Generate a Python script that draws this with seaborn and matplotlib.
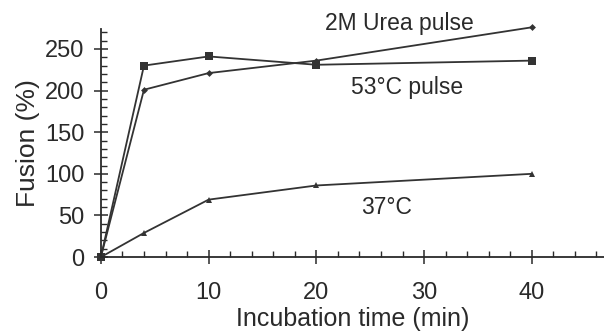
import matplotlib
matplotlib.use("Agg")
import matplotlib.pyplot as plt
from matplotlib.ticker import MultipleLocator
import seaborn as sns
import pandas as pd

time_min = [0, 4, 10, 20, 40]
urea_pulse = [0, 201, 221, 236, 276]
heat_pulse = [0, 230, 241, 231, 236]
control_37 = [0, 29, 69, 86, 100]

series_names = ["2M Urea pulse", "53°C pulse", "37°C"]
x_ticks = [0, 10, 20, 30, 40]
y_ticks = [0, 50, 100, 150, 200, 250]

sns.set_theme(style="ticks")
plt.rcParams['font.family'] = ['Liberation Sans', 'DejaVu Sans']

rows = []
for name, vals in zip(series_names, [urea_pulse, heat_pulse, control_37]):
    for t, v in zip(time_min, vals):
        rows.append({"time": t, "fusion": v, "series": name})
df = pd.DataFrame(rows)

fig = plt.figure(figsize=(6.04, 3.33), dpi=100)
ax = fig.add_axes([0.167, 0.228, 0.833, 0.685])

line_col = "#333333"
sns.lineplot(data=df, x="time", y="fusion", hue="series", style="series",
             palette={n: line_col for n in series_names},
             markers={"2M Urea pulse": "D", "53°C pulse": "s", "37°C": "^"},
             dashes=False, linewidth=1.3, markersize=4.5, markeredgewidth=0,
             legend=False, ax=ax)
for ln in ax.get_lines():
    ln.set_clip_on(False)
    if ln.get_marker() == "s":
        ln.set_markersize(5.5)
    elif ln.get_marker() == "D":
        ln.set_markersize(3.5)

ax.set_xlim(0, 46.7)
ax.set_ylim(0, 274)
ax.set_xticks(x_ticks)
ax.set_yticks(y_ticks)
ax.xaxis.set_minor_locator(MultipleLocator(2))
ax.yaxis.set_minor_locator(MultipleLocator(10))
ax.tick_params(which="major", direction="inout", length=9.5, width=1.1,
               labelsize=17, colors="#2a2a2a")
ax.tick_params(axis="x", which="major", pad=13)
ax.tick_params(axis="y", which="major", pad=7)
ax.tick_params(which="minor", direction="in", length=4, width=1.0, colors="#2a2a2a")
for s in ["top", "right"]:
    ax.spines[s].set_visible(False)
for s in ["left", "bottom"]:
    ax.spines[s].set_linewidth(1.3)
    ax.spines[s].set_color("#2a2a2a")

ax.set_xlabel("Incubation time (min)", fontsize=18, color="#2a2a2a", labelpad=2)
ax.set_ylabel("Fusion (%)", fontsize=19, color="#2a2a2a", labelpad=4)

ax.text(27.7, 281, "2M Urea pulse", fontsize=16.5, ha="center", va="center",
        color="#2a2a2a", clip_on=False)
ax.text(28.4, 204, "53°C pulse", fontsize=16.5, ha="center", va="center",
        color="#2a2a2a")
ax.text(26.5, 60, "37°C", fontsize=16.5, ha="center", va="center",
        color="#2a2a2a")

fig.savefig("out.png", dpi=100)
